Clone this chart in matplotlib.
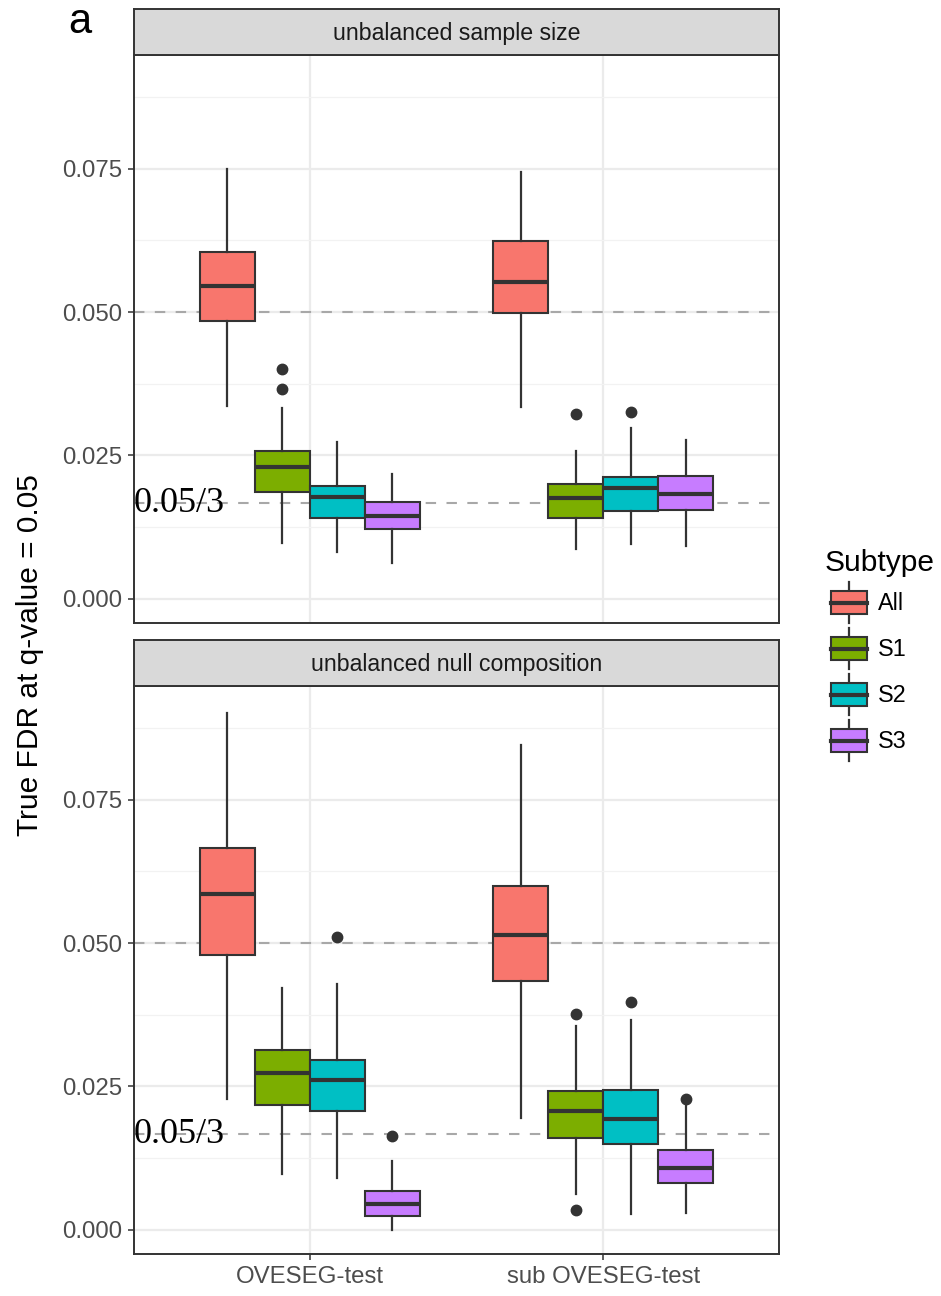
import matplotlib
matplotlib.use('Agg')
import matplotlib.pyplot as plt
from matplotlib.patches import Rectangle
from matplotlib.lines import Line2D
from matplotlib.legend_handler import HandlerBase
from matplotlib.patches import Patch

plt.rcParams['font.family'] = ['Liberation Sans', 'DejaVu Sans']

subtypes = ['All', 'S1', 'S2', 'S3']
colors = ['#F8766D', '#7CAE00', '#00BFC4', '#C77CFF']
methods = ['OVESEG-test', 'sub OVESEG-test']
panels = ['unbalanced sample size', 'unbalanced null composition']

# box stats per subtype: [whisker low, q1, median, q3, whisker high]
size_oveseg = [[0.0337, 0.0485, 0.0545, 0.0604, 0.0750],
               [0.0097, 0.0187, 0.0230, 0.0258, 0.0333],
               [0.0081, 0.0141, 0.0177, 0.0197, 0.0274],
               [0.0062, 0.0121, 0.0144, 0.0169, 0.0218]]
size_sub = [[0.0334, 0.0499, 0.0552, 0.0623, 0.0744],
            [0.0087, 0.0141, 0.0175, 0.0201, 0.0258],
            [0.0095, 0.0153, 0.0193, 0.0213, 0.0298],
            [0.0092, 0.0155, 0.0183, 0.0215, 0.0277]]
null_oveseg = [[0.0228, 0.0479, 0.0586, 0.0666, 0.0901],
               [0.0097, 0.0217, 0.0273, 0.0313, 0.0422],
               [0.0090, 0.0208, 0.0261, 0.0297, 0.0429],
               [0.0000, 0.0024, 0.0045, 0.0067, 0.0120]]
null_sub = [[0.0195, 0.0433, 0.0514, 0.0600, 0.0845],
            [0.0062, 0.0160, 0.0208, 0.0242, 0.0356],
            [0.0028, 0.0149, 0.0193, 0.0244, 0.0365],
            [0.0030, 0.0082, 0.0108, 0.0139, 0.0223]]

# outliers per subtype
size_oveseg_out = [[], [0.0401, 0.0365], [], []]
size_sub_out = [[], [0.0323], [0.0326], []]
null_oveseg_out = [[], [], [0.0511], [0.0164]]
null_sub_out = [[], [0.0377, 0.0034], [0.0398], [0.0228]]

panel_stats = [[size_oveseg, size_sub], [null_oveseg, null_sub]]
panel_out = [[size_oveseg_out, size_sub_out], [null_oveseg_out, null_sub_out]]

ref_lines = [0.05, 0.05 / 3]

W, H = 941, 1296
fig = plt.figure(figsize=(W / 100, H / 100), dpi=100)

dark = '#333333'
box_w = 0.75 / 4
offsets = [(-1.5 + i) * box_w for i in range(4)]

left, width = 134 / W, 645 / W
panel_px = [(55, 623), (686, 1254)]
strip_h = 46

for p in range(2):
    top, bot = panel_px[p]
    ax = fig.add_axes([left, 1 - bot / H, width, (bot - top) / H])
    sax = fig.add_axes([left, 1 - top / H, width, strip_h / H])
    sax.set_facecolor('#D9D9D9')
    sax.set_xticks([])
    sax.set_yticks([])
    for s in sax.spines.values():
        s.set_color(dark)
        s.set_linewidth(1.4)
    sax.text(0.5, 0.47, panels[p], ha='center', va='center', fontsize=16.7,
             color='#1A1A1A', transform=sax.transAxes)

    ax.set_xlim(0.4, 2.6)
    ax.set_ylim(-0.0042, 0.0948)
    ax.set_yticks([0, 0.025, 0.05, 0.075])
    ax.set_yticklabels(['0.000', '0.025', '0.050', '0.075'])
    ax.set_yticks([0.0125, 0.0375, 0.0625, 0.0875], minor=True)
    ax.set_xticks([1, 2])
    ax.grid(True, which='major', color='#EBEBEB', lw=1.6)
    ax.grid(True, which='minor', axis='y', color='#F2F2F2', lw=0.9)
    ax.tick_params(axis='y', which='minor', length=0)
    ax.tick_params(axis='both', which='major', length=4.5, width=1.1, color=dark,
                   labelsize=17.3, labelcolor='#4D4D4D', pad=4)
    if p == 0:
        ax.tick_params(axis='x', length=0, labelbottom=False)
    else:
        ax.set_xticklabels(methods)
    ax.set_axisbelow(True)
    for s in ax.spines.values():
        s.set_color(dark)
        s.set_linewidth(1.4)

    for y in ref_lines:
        ax.axhline(y, color='#A8A8A8', lw=1.5, dashes=(5, 5), zorder=1.5)

    for m in range(2):
        for k in range(4):
            lo, q1, med, q3, hi = panel_stats[p][m][k]
            st = dict(whislo=lo, q1=q1, med=med, q3=q3, whishi=hi,
                      fliers=panel_out[p][m][k])
            ax.bxp([st], positions=[m + 1 + offsets[k]], widths=box_w,
                   patch_artist=True, showcaps=False, manage_ticks=False,
                   boxprops=dict(facecolor=colors[k], edgecolor=dark, linewidth=1.5),
                   medianprops=dict(color=dark, linewidth=3.0),
                   whiskerprops=dict(color=dark, linewidth=1.6),
                   flierprops=dict(marker='o', markerfacecolor=dark,
                                   markeredgecolor=dark, markersize=7.5),
                   zorder=2)

    ax.text(0.4, 0.05 / 3, '0.05/3', ha='left', va='center', fontsize=26,
            family='Liberation Serif', color='black', zorder=3)

fig.text(30 / W, 1 - 655 / H, 'True FDR at q-value = 0.05', rotation=90,
         ha='center', va='center', fontsize=21.5, color='black')
fig.text(80 / W, 1 - 22 / H, 'a', ha='center', va='center', fontsize=30,
         color='black')


class HandlerBox(HandlerBase):
    def create_artists(self, legend, orig_handle, xdescent, ydescent, width,
                       height, fontsize, trans):
        x0, y0 = -xdescent + 4, -ydescent
        bh = height * 0.58
        by = y0 + (height - bh) / 2
        xc = x0 + width / 2
        rect = Rectangle((x0, by), width, bh, facecolor=orig_handle.get_facecolor(),
                         edgecolor=dark, lw=1.5, transform=trans)
        med = Line2D([x0, x0 + width], [y0 + height / 2] * 2, color=dark, lw=3.0,
                     transform=trans)
        w1 = Line2D([xc, xc], [y0, by], color=dark, lw=1.6, transform=trans)
        w2 = Line2D([xc, xc], [by + bh, y0 + height], color=dark, lw=1.6,
                    transform=trans)
        return [w1, w2, rect, med]


handles = [Patch(facecolor=c) for c in colors]
leg = fig.legend(handles, subtypes, handler_map={Patch: HandlerBox()},
                 loc='upper left', bbox_to_anchor=(825 / W, 1 - 549 / H),
                 frameon=False, fontsize=16.8, title='Subtype',
                 title_fontsize=21.5, handlelength=1.55, handleheight=2.3,
                 labelspacing=0.23, handletextpad=0.7, borderpad=0,
                 borderaxespad=0, alignment='left')

fig.savefig('out.png', dpi=100)
